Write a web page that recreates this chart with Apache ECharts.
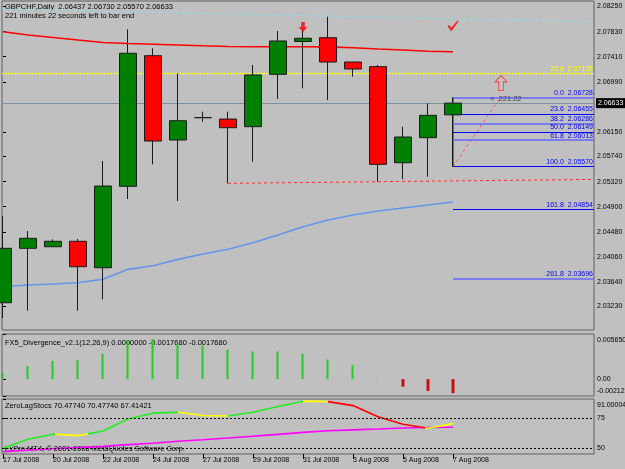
<!DOCTYPE html>
<html>
<head>
<meta charset="UTF-8">
<title>GBPCHF,Daily</title>
<script src="https://cdn.jsdelivr.net/npm/echarts@6/dist/echarts.min.js"></script>
<style>
    html, body { margin: 0; padding: 0; background: #c0c0c0; }
    #chart { width: 625px; height: 469px; }
</style>
</head>
<body>
<div id="chart"></div>
<script>
// bars
var dates = ['17 Jul 2008', '18 Jul 2008', '20 Jul 2008', '21 Jul 2008', '22 Jul 2008', '23 Jul 2008',
    '24 Jul 2008', '25 Jul 2008', '27 Jul 2008', '28 Jul 2008', '29 Jul 2008', '30 Jul 2008',
    '31 Jul 2008', '1 Aug 2008', '3 Aug 2008', '4 Aug 2008', '5 Aug 2008', '6 Aug 2008', '7 Aug 2008'];
var openP  = [2.03293, 2.04204, 2.04230, 2.04321, 2.03879, 2.05241, 2.07427, 2.06016, 2.06389, 2.06367,
    2.06239, 2.07115, 2.07665, 2.07728, 2.07321, 2.07243, 2.05636, 2.06055, 2.06437];
var closeP = [2.04204, 2.04371, 2.04321, 2.03896, 2.05246, 2.07467, 2.05999, 2.06339, 2.06392, 2.06222,
    2.07104, 2.07673, 2.07718, 2.07321, 2.07204, 2.05609, 2.06066, 2.06429, 2.06633];
var lowP   = [2.03037, 2.03160, 2.04230, 2.03160, 2.03350, 2.05029, 2.05609, 2.04995, 2.06322, 2.05291,
    2.05653, 2.06702, 2.06881, 2.06685, 2.07075, 2.05318, 2.05358, 2.05402, 2.05570];
var highP  = [2.04744, 2.04493, 2.04354, 2.04359, 2.05665, 2.07868, 2.07550, 2.07132, 2.06490, 2.06490,
    2.07271, 2.07840, 2.07873, 2.08079, 2.07321, 2.07271, 2.06239, 2.06630, 2.06730];

// moving averages
var redMa  = [2.07828, 2.07773, 2.07731, 2.07689, 2.07648, 2.07631, 2.07619, 2.07606, 2.07592, 2.07581,
    2.07577, 2.07577, 2.07577, 2.07575, 2.07559, 2.07539, 2.07522, 2.07500, 2.07494];
var blueMa = [2.03565, 2.03590, 2.03606, 2.03628, 2.03685, 2.03852, 2.03912, 2.04019, 2.04108, 2.04187,
    2.04297, 2.04426, 2.04565, 2.04677, 2.04761, 2.04828, 2.04878, 2.04928, 2.04978];

var priceTicks = [2.08250, 2.07830, 2.07410, 2.06990, 2.06150, 2.05740, 2.05320, 2.04900,
    2.04480, 2.04060, 2.03640, 2.03230];
var lastPrice = 2.06633;

// fibo on the last bar
var fibLevels = [0.0, 23.6, 38.2, 50.0, 61.8, 100.0, 161.8, 261.8];
var fibPrices = [2.06728, 2.06455, 2.06286, 2.06149, 2.06013, 2.05570, 2.04854, 2.03696];
var bigFibLevel = 23.6, bigFibPrice = 2.07128;

// trend lines [bar, price]
var topLine  = [[-0.04, 2.08208], [23.64, 2.07991]];
var lowLine  = [[9, 2.05291], [23.64, 2.05357]];
var fibDiag  = [[18, 2.05570], [19.9, 2.06728]];

// arrows / marks
var downArrow = [12, 2.07907];
var checkMark = [18, 2.07924];
var upArrow   = [19.92, 2.06970];
var timerPos  = [19.48, 2.06697];
var timerText = '<  221:22';

// FX5 divergence
var fx5 = [0.00074, 0.00163, 0.00228, 0.00237, 0.00319, 0.00491, 0.00500, 0.00442, 0.00421, 0.00368,
    0.00347, 0.00347, 0.00319, 0.00245, 0.00175, 0.00005, -0.00095, -0.00150, -0.001768];
var fx5Ticks = [0.00565, 0, -0.00212];

// ZeroLag stochastic
var stochMain   = [50.0, 57.5, 61.7, 60.5, 64.4, 74.4, 79.2, 80.0, 77.2, 76.9,
    80.0, 84.7, 89.2, 88.8, 85.5, 76.3, 70.0, 66.7, 70.4774];
var stochSignal = [47.2, 48.3, 49.5, 50.5, 51.5, 53.0, 54.2, 55.8, 57.0, 58.5,
    60.0, 61.5, 63.2, 64.5, 65.3, 66.0, 66.8, 67.2, 67.41421];
var stochTicks = [91.000047, 75, 50, 45.18188];

var dateTicks = [0, 2, 4, 6, 8, 10, 12, 14, 16, 18];

var xMin = -0.04, xMax = 23.64;
var FONT = 'Liberation Sans';

var myChart = echarts.init(document.getElementById('chart'));

function idx(arr) {
    return arr.map(function (v, i) { return [i, v]; });
}

var candles = dates.map(function (d, i) {
    return [i, openP[i], closeP[i], lowP[i], highP[i]];
});

var fibLines = fibLevels.map(function (lv, k) {
    var light = (k === 0 || k === 2 || k === 4 || k === 7);
    return [
        { name: lv.toFixed(1) + '  ' + fibPrices[k].toFixed(5), coord: [18, fibPrices[k]],
          lineStyle: { color: light ? '#6666ff' : '#0000ff', width: light ? 1.5 : 1, type: 'solid' } },
        { coord: [xMax, fibPrices[k]] }
    ];
});

var last = dates.length - 1;
var header = 'GBPCHF,Daily  ' + openP[last].toFixed(5) + ' ' + highP[last].toFixed(5) + ' ' +
    lowP[last].toFixed(5) + ' ' + closeP[last].toFixed(5);

function xAxisFor(g, showLabels) {
    return {
        type: 'value', gridIndex: g, min: xMin, max: xMax,
        axisLine: { show: false },
        splitLine: { show: false },
        axisTick: { show: showLabels, customValues: dateTicks, length: 5, lineStyle: { color: '#000' } },
        axisLabel: {
            show: showLabels, customValues: dateTicks, align: 'left', margin: 3,
            fontSize: 7, fontFamily: FONT, color: '#000',
            formatter: function (v) { return dates[Math.round(v)] || ''; }
        }
    };
}

// edge labels pushed inside the panel like MT4 does
var edgeRich = {
    t: { padding: [12, 0, 0, 0], fontSize: 7, fontFamily: FONT, color: '#000' },
    b: { padding: [0, 0, 9, 0], fontSize: 7, fontFamily: FONT, color: '#000' }
};

var option = {
    backgroundColor: '#c0c0c0',
    animation: false,
    textStyle: { fontFamily: FONT, fontSize: 7 },
    grid: [
        { left: 2, right: 31, top: 1, height: 329, show: true, borderColor: '#606060', borderWidth: 1, outerBoundsMode: 'none' },
        { left: 2, right: 31, top: 334, height: 62, show: true, borderColor: '#606060', borderWidth: 1, outerBoundsMode: 'none' },
        { left: 2, right: 31, top: 399, height: 55, show: true, borderColor: '#606060', borderWidth: 1, outerBoundsMode: 'none' }
    ],
    xAxis: [xAxisFor(0, false), xAxisFor(1, false), xAxisFor(2, true)],
    yAxis: [
        {
            type: 'value', gridIndex: 0, position: 'right', min: 2.02837, max: 2.08342,
            splitLine: { show: false }, axisLine: { show: false },
            axisTick: { show: true, customValues: priceTicks, length: 3, lineStyle: { color: '#000' } },
            axisLabel: { customValues: priceTicks, margin: 3, fontSize: 7, fontFamily: FONT, color: '#000',
                formatter: function (v) { return v.toFixed(5); } }
        },
        {
            type: 'value', gridIndex: 1, position: 'right', min: -0.00212, max: 0.00565,
            splitLine: { show: false }, axisLine: { show: false },
            axisTick: { show: true, customValues: fx5Ticks, length: 3, lineStyle: { color: '#000' } },
            axisLabel: { customValues: fx5Ticks, margin: 3, fontSize: 7, fontFamily: FONT, color: '#000',
                rich: edgeRich,
                formatter: function (v) {
                    if (v === 0) return '0.00';
                    return v > 0 ? '{t|' + v.toFixed(6) + '}' : '{b|' + v.toFixed(5) + '}';
                } }
        },
        {
            type: 'value', gridIndex: 2, position: 'right', min: 45.18188, max: 91.000047,
            splitLine: { show: false }, axisLine: { show: false },
            axisTick: { show: true, customValues: stochTicks, length: 3, lineStyle: { color: '#000' } },
            axisLabel: { customValues: stochTicks, margin: 3, fontSize: 7, fontFamily: FONT, color: '#000',
                rich: edgeRich, hideOverlap: false,
                formatter: function (v) {
                    if (v === stochTicks[0]) return '{t|' + v + '}';
                    if (v === stochTicks[3]) return '{b|' + v + '}';
                    return String(v);
                } }
        }
    ],
    visualMap: {
        show: false, type: 'piecewise', seriesIndex: 11, dimension: 0,
        pieces: [
            { lt: 2.1, color: '#22ee22' },
            { gte: 2.1, lt: 3.4, color: '#ffff00' },
            { gte: 3.4, lt: 7, color: '#22ee22' },
            { gte: 7, lt: 9, color: '#ffff00' },
            { gte: 9, lt: 12, color: '#22ee22' },
            { gte: 12, lt: 13, color: '#ffff00' },
            { gte: 13, lt: 16.9, color: '#ff0000' },
            { gte: 16.9, color: '#ffff00' }
        ]
    },
    graphic: [
        { type: 'text', left: 5, top: 3, style: { text: header, fontSize: 7.5, fontFamily: FONT, fill: '#000' } },
        { type: 'text', left: 5, top: 12, style: { text: '221 minutes 22 seconds left to bar end', fontSize: 7.5, fontFamily: FONT, fill: '#000' } },
        { type: 'text', left: 5, top: 339, style: { text: 'FX5_Divergence_v2.1(12,26,9) 0.0000000 -0.0017680 -0.0017680', fontSize: 7.5, fontFamily: FONT, fill: '#000' } },
        { type: 'text', left: 5, top: 402, style: { text: 'ZeroLagStocs 70.47740 70.47740 67.41421', fontSize: 7.5, fontFamily: FONT, fill: '#000' } },
        { type: 'text', left: 5, top: 445, style: { text: 'FxPro MT4, \u00a9 2001-2008 MetaQuotes Software Corp.', fontSize: 7.5, fontFamily: FONT, fill: '#000' } }
    ],
    series: [
        // 0 top trend line + horizontal levels (current price, big fib 23.6)
        {
            type: 'line', xAxisIndex: 0, yAxisIndex: 0, data: topLine, z: 1,
            showSymbol: false, silent: true,
            lineStyle: { color: '#8edede', width: 1, type: [3, 3] },
            markLine: {
                silent: true, symbol: ['none', 'none'],
                data: [
                    [
                        { coord: [xMin, lastPrice], lineStyle: { color: '#7d90a2', width: 1, type: 'solid' },
                          label: { show: true, position: 'end', distance: 2, formatter: lastPrice.toFixed(5),
                              backgroundColor: '#000', color: '#fff', padding: [2, 3, 1, 2], fontSize: 7, fontFamily: FONT } },
                        { coord: [xMax, lastPrice] }
                    ],
                    [
                        { coord: [xMin, bigFibPrice], lineStyle: { color: '#ffff00', width: 1.3, type: [2, 1] },
                          label: { show: true, position: 'insideEndTop', distance: 1,
                              formatter: bigFibLevel.toFixed(1) + '  ' + bigFibPrice.toFixed(5),
                              color: '#ffff00', fontSize: 7, fontFamily: FONT } },
                        { coord: [xMax, bigFibPrice] }
                    ]
                ]
            }
        },
        // 1 support trend line
        {
            type: 'line', xAxisIndex: 0, yAxisIndex: 0, data: lowLine, z: 1,
            showSymbol: false, silent: true,
            lineStyle: { color: '#ff3030', width: 1, type: [3, 3] }
        },
        // 2 fibo vertical + levels
        {
            type: 'line', xAxisIndex: 0, yAxisIndex: 0, data: [[18, fibPrices[5]], [18, fibPrices[0]]], z: 1,
            showSymbol: false, silent: true,
            lineStyle: { color: '#202020', width: 1 },
            markLine: {
                silent: true, symbol: ['none', 'none'],
                label: { show: true, position: 'insideEndTop', distance: 1, color: '#0000ff',
                    fontSize: 7, fontFamily: FONT, formatter: function (p) { return p.name; } },
                data: fibLines
            }
        },
        // 3 fibo diagonal
        {
            type: 'line', xAxisIndex: 0, yAxisIndex: 0, data: fibDiag, z: 1,
            showSymbol: false, silent: true,
            lineStyle: { color: '#ff5050', width: 1, type: [3, 3] }
        },
        // 4 red MA
        {
            type: 'line', xAxisIndex: 0, yAxisIndex: 0, data: idx(redMa), z: 2,
            showSymbol: false, silent: true,
            lineStyle: { color: '#ff0000', width: 1.6 }
        },
        // 5 blue MA
        {
            type: 'line', xAxisIndex: 0, yAxisIndex: 0, data: idx(blueMa), z: 2,
            showSymbol: false, silent: true,
            lineStyle: { color: '#6495ed', width: 1.6 }
        },
        // 6 candles
        {
            type: 'candlestick', xAxisIndex: 0, yAxisIndex: 0, data: candles, z: 5,
            encode: { x: 0, y: [1, 2, 3, 4] }, barWidth: 18, clip: true,
            itemStyle: { color: '#008000', color0: '#ff0000', borderColor: '#1a1a1a', borderColor0: '#1a1a1a', borderWidth: 1 }
        },
        // 7 signal marks
        {
            type: 'scatter', xAxisIndex: 0, yAxisIndex: 0, z: 6, silent: true,
            data: [
                { value: downArrow, symbol: 'path://M3,0 L7,0 L7,6 L10,6 L5,12 L0,6 L3,6 Z', symbolSize: [9, 10],
                  itemStyle: { color: '#ff0000' } },
                { value: checkMark, symbol: 'path://M0,6 L2,5 L4,8 L11,0 L12,1 L4,12 Z', symbolSize: [11, 11],
                  itemStyle: { color: '#ff0000' } },
                { value: upArrow, symbol: 'path://M5,0 L10,6 L7,6 L7,14 L3,14 L3,6 L0,6 Z', symbolSize: [12, 15],
                  itemStyle: { color: 'rgba(0,0,0,0)', borderColor: '#ff3030', borderWidth: 1 } },
                { value: timerPos, symbolSize: 0,
                  label: { show: true, position: 'right', distance: 0, formatter: timerText, color: '#202020',
                      fontSize: 7.5, fontFamily: FONT } }
            ]
        },
        // 8 FX5 positive
        {
            type: 'bar', xAxisIndex: 1, yAxisIndex: 1, barWidth: 2, barGap: '-100%', silent: true,
            data: fx5.map(function (v, i) { return [i, v >= 0 ? v : null]; }),
            itemStyle: { color: '#22cc22' }
        },
        // 9 FX5 negative
        {
            type: 'bar', xAxisIndex: 1, yAxisIndex: 1, barWidth: 3, barGap: '-100%', silent: true,
            data: fx5.map(function (v, i) { return [i, v < 0 ? v : null]; }),
            itemStyle: { color: '#cc1010' }
        },
        // 10 stoch signal
        {
            type: 'line', xAxisIndex: 2, yAxisIndex: 2, data: idx(stochSignal), z: 3,
            showSymbol: false, silent: true,
            lineStyle: { color: '#ff00ff', width: 1.6 },
            markLine: {
                silent: true, symbol: ['none', 'none'], label: { show: false },
                lineStyle: { color: '#000', width: 1, type: [2, 2] },
                data: [{ yAxis: 75 }, { yAxis: 50 }]
            }
        },
        // 11 stoch main (coloured by visualMap)
        {
            type: 'line', xAxisIndex: 2, yAxisIndex: 2, data: idx(stochMain), z: 4,
            showSymbol: false, silent: true,
            lineStyle: { width: 1.6 }
        }
    ]
};

myChart.setOption(option);
</script>
</body>
</html>
